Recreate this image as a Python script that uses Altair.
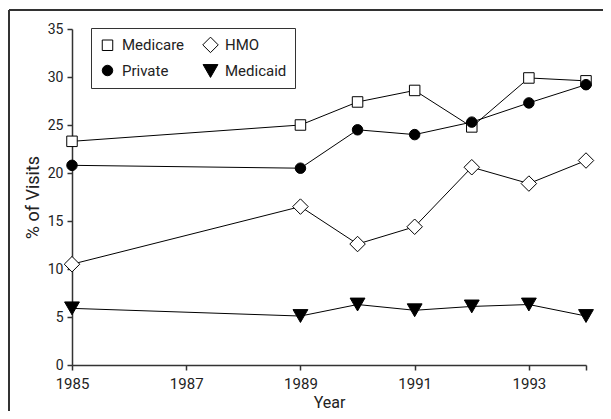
import altair as alt
import pandas as pd

years = [1985, 1989, 1990, 1991, 1992, 1993, 1994]
medicare = [23.3, 25.0, 27.4, 28.6, 24.8, 29.9, 29.6]
private = [20.8, 20.5, 24.5, 24.0, 25.3, 27.3, 29.2]
hmo = [10.5, 16.5, 12.6, 14.4, 20.6, 18.9, 21.3]
medicaid = [5.9, 5.1, 6.3, 5.7, 6.1, 6.3, 5.1]

series = ["Medicare", "Private", "HMO", "Medicaid"]
shapes = ["square", "circle", "diamond", "triangle-down"]
fills = ["white", "black", "white", "black"]
sizes = [110, 110, 240, 220]

rows = []
for name, vals in [("Medicare", medicare), ("Private", private), ("HMO", hmo), ("Medicaid", medicaid)]:
    for y, v in zip(years, vals):
        rows.append({"Year": y, "Pct": v, "Series": name})
df = pd.DataFrame(rows)

FONT = "Roboto, Liberation Sans, sans-serif"

x_enc = alt.X("Year:Q", scale=alt.Scale(domain=[1985, 1994], nice=False, zero=False),
              axis=alt.Axis(values=[1985, 1987, 1989, 1991, 1993, 1994],
                            labelExpr="datum.value == 1994 ? '' : datum.value",
                            format="d", title="Year", grid=False, labelFlush=False,
                            labelFontSize=15, labelPadding=6, titlePadding=3, titleFontSize=16))
y_enc = alt.Y("Pct:Q", scale=alt.Scale(domain=[0, 35], nice=False),
              axis=alt.Axis(values=[0, 5, 10, 15, 20, 25, 30, 35], title="% of Visits", grid=False,
                            labelFontSize=14, labelPadding=4, titlePadding=5, titleFontSize=18))

lines = alt.Chart(df).mark_line(color="black", strokeWidth=1).encode(
    x=x_enc, y=y_enc, detail="Series:N")

legend = alt.Legend(title=None, orient="none", legendX=19, legendY=-1, columns=2,
                    strokeColor="#333", padding=8, rowPadding=7, columnPadding=15,
                    labelFontSize=15, labelFont=FONT, labelColor="#222", symbolStrokeWidth=1,
                    labelOffset=6)

points = alt.Chart(df).mark_point(filled=False, stroke="black", strokeWidth=1, opacity=1).encode(
    x=x_enc, y=y_enc,
    shape=alt.Shape("Series:N", scale=alt.Scale(domain=series, range=shapes), legend=legend),
    fill=alt.Fill("Series:N", scale=alt.Scale(domain=series, range=fills), legend=legend),
    size=alt.Size("Series:N", scale=alt.Scale(type="ordinal", domain=series, range=sizes), legend=legend),
)

frame_left = alt.Chart(df).mark_rule(color="#333", strokeWidth=1.5, clip=False).encode(
    x=alt.value(-63), y=alt.value(-19), y2=alt.value(420))
frame_top = alt.Chart(df).mark_rule(color="#333", strokeWidth=1.5, clip=False).encode(
    x=alt.value(-63), x2=alt.value(560), y=alt.value(-19))

chart = alt.layer(frame_left, frame_top, lines, points).properties(
    width=514, height=336,
    autosize=alt.AutoSizeParams(type="none"),
    padding={"left": 64, "top": 21, "right": 17, "bottom": 46},
).configure_view(stroke=None).configure_axis(
    domainColor="#333", domainWidth=1.5, tickColor="#333", tickWidth=1.5, tickSize=5,
    labelFont=FONT, labelColor="#222", titleFont=FONT,
    titleColor="#222", titleFontWeight="normal",
)

chart.save("out.html", embed_options={"renderer": "svg", "actions": False})
